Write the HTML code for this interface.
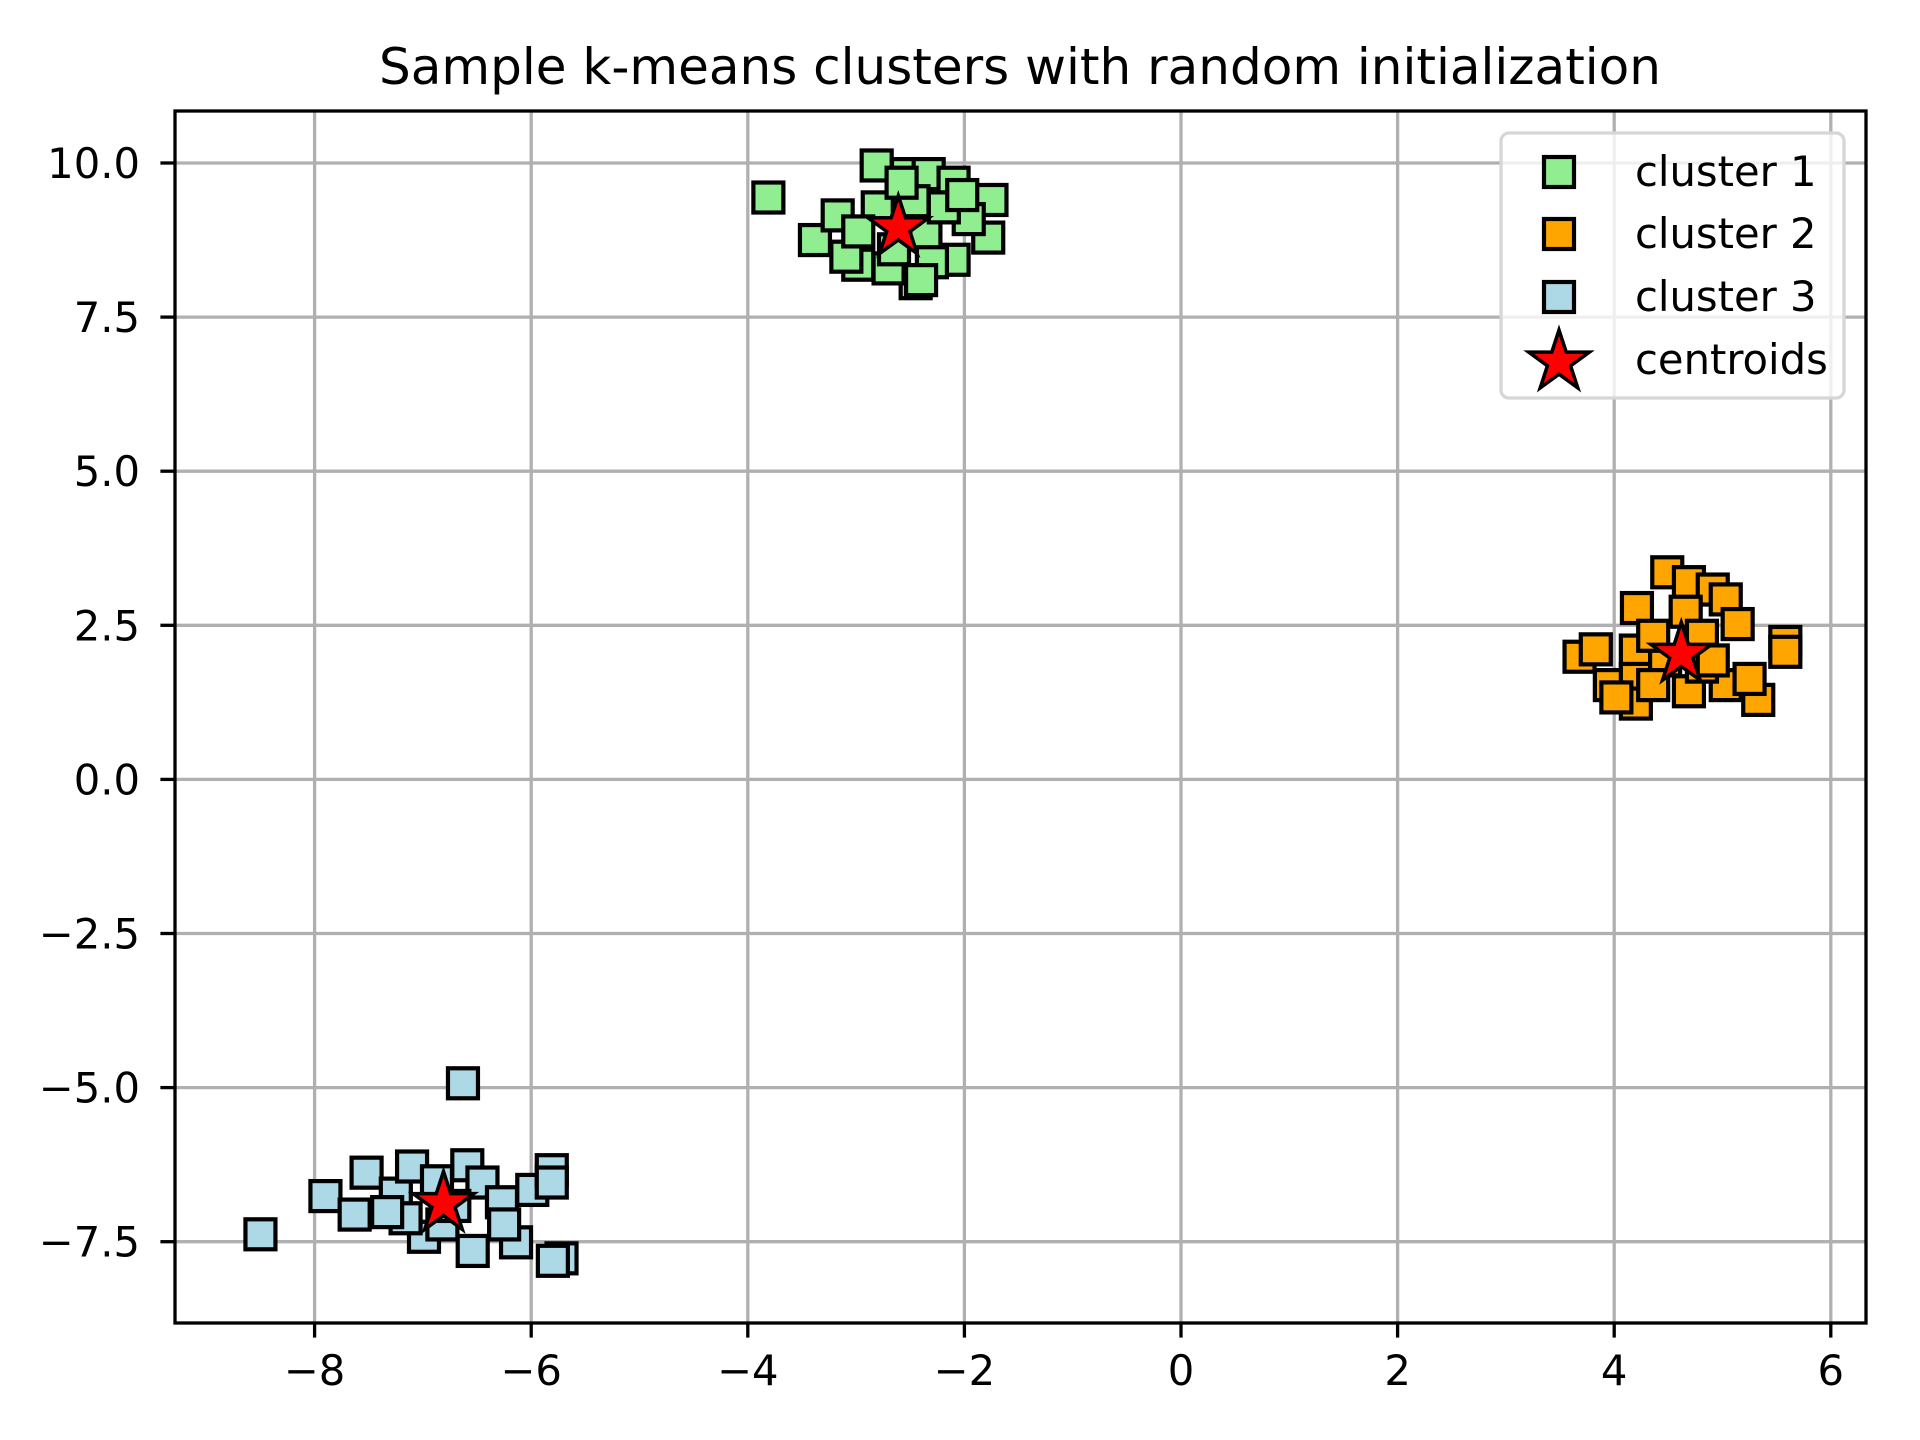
<!DOCTYPE html>
<html><head><meta charset="utf-8"><style>
html,body{margin:0;padding:0;background:#fff;}
svg{display:block;font-family:"DejaVu Sans","Liberation Sans",sans-serif;}
</style></head><body>
<svg id="chart" width="1920" height="1440" viewBox="0 0 1920 1440" xmlns="http://www.w3.org/2000/svg">
<rect width="1920" height="1440" fill="#fff"/>
<text x="1020" y="84" font-size="50" text-anchor="middle">Sample k-means clusters with random initialization</text>
<g id="grid"></g>
<g id="points"></g>
<g id="axes"></g>
<g id="legend"></g>
</svg>
<script>
const xTicks=[-8,-6,-4,-2,0,2,4,6];
const yTicks=[-7.5,-5.0,-2.5,0.0,2.5,5.0,7.5,10.0];
const c1x=[-3.81,-2.81,-2.53,-2.33,-2.10,-1.75,-1.78,-2.10,-2.45,-2.98,-3.38,-3.17,-2.80,-2.36,-2.70,-2.47,-1.96,-3.09,-2.30,-2.58,-2.19,-2.98,-2.02,-2.40,-2.65];
const c1y=[9.44,9.96,9.82,9.82,9.68,9.40,8.79,8.43,8.05,8.35,8.75,9.15,9.28,8.85,8.29,9.38,9.09,8.48,8.39,9.68,9.28,8.89,9.48,8.10,8.60];
const c2x=[4.49,4.69,4.91,5.03,4.21,4.66,5.14,4.81,5.58,5.58,3.68,3.83,4.20,3.96,4.20,4.20,4.02,5.03,5.33,4.69,4.47,4.81,5.25,4.36,4.91,4.36];
const c2y=[3.36,3.20,3.08,2.92,2.78,2.72,2.52,2.33,2.23,2.07,1.99,2.11,2.09,1.53,1.63,1.23,1.33,1.53,1.29,1.43,1.93,1.83,1.63,2.33,1.93,1.53];
const c3x=[-6.63,-8.50,-7.90,-7.63,-7.52,-7.25,-7.10,-6.59,-6.45,-6.27,-5.99,-5.81,-5.81,-5.72,-5.80,-6.14,-6.54,-6.99,-7.16,-6.82,-6.71,-7.33,-6.87,-6.25];
const c3y=[-4.93,-7.38,-6.76,-7.06,-6.38,-6.72,-6.28,-6.26,-6.54,-6.86,-6.66,-6.34,-6.54,-7.77,-7.81,-7.51,-7.65,-7.42,-7.12,-7.22,-6.92,-7.02,-6.52,-7.22];
const centX=[-2.61,4.62,-6.81];
const centY=[8.95,2.03,-6.88];

const L=175,R=1866,T=111,B=1323;
function sx(v){return 1181+v*108.3;}
function sy(v){return 779.4-v*61.64;}
const NS="http://www.w3.org/2000/svg";
function mk(tag,attrs,parent){const e=document.createElementNS(NS,tag);for(const k in attrs)e.setAttribute(k,attrs[k]);parent.appendChild(e);return e;}
const grid=document.getElementById('grid'),axes=document.getElementById('axes'),pts=document.getElementById('points'),leg=document.getElementById('legend');

xTicks.forEach(t=>{
  const x=sx(t);
  const g=mk('line',{x1:x,x2:x,y1:T,y2:B,stroke:'#b0b0b0','stroke-width':3.3},grid);
  
  
  const tk=mk('line',{x1:x,x2:x,y1:B,y2:B+14.6,stroke:'#000','stroke-width':3.3},axes);
  
  
  const tx=mk('text',{x:x,y:B+62,'font-size':41.7,'text-anchor':'middle'},axes);
  tx.textContent=(t<0?'\u2212':'')+Math.abs(t);
  
  
});
yTicks.forEach(t=>{
  const y=sy(t);
  const g=mk('line',{x1:L,x2:R,y1:y,y2:y,stroke:'#b0b0b0','stroke-width':3.3},grid);
  
  
  const tk=mk('line',{x1:L-14.6,x2:L,y1:y,y2:y,stroke:'#000','stroke-width':3.3},axes);
  
  
  const tx=mk('text',{x:L-35,y:y+15,'font-size':41.7,'text-anchor':'end'},axes);
  tx.textContent=(t<0?'\u2212':'')+Math.abs(t).toFixed(1);
  
  
});
const sp=mk('rect',{x:L,y:T,width:R-L,height:B-T,fill:'none',stroke:'#000','stroke-width':3.3},axes);



function square(cx,cy,fill,parent,s){
  return mk('rect',{x:cx-s/2,y:cy-s/2,width:s,height:s,fill:fill,stroke:'#000','stroke-width':4.2},parent);
}
function starPath(cx,cy,ro){
  const ri=ro*0.382;let d='';
  for(let i=0;i<10;i++){const r=i%2?ri:ro;const a=-Math.PI/2+i*Math.PI/5;d+=(i?'L':'M')+(cx+r*Math.cos(a)).toFixed(1)+','+(cy+r*Math.sin(a)).toFixed(1);}
  return d+'Z';
}
[[c1x,c1y,'#90ee90','cluster-1-point'],[c2x,c2y,'#ffa500','cluster-2-point'],[c3x,c3y,'#add8e6','cluster-3-point']].forEach(([xs,ys,f,n])=>{
  xs.forEach((v,i)=>{
    const r=square(sx(v),sy(ys[i]),f,pts,30);
    
    
  });
});
centX.forEach((v,i)=>{
  const p=mk('path',{d:starPath(sx(v),sy(centY[i]),32),fill:'#ff0000',stroke:'#000','stroke-width':3.5},pts);
  
  
});

const box=mk('rect',{x:1501,y:133,width:343,height:265,rx:8,fill:'#fff','fill-opacity':0.8,stroke:'#d6d6d6','stroke-width':3.3},leg);


const labels=['cluster 1','cluster 2','cluster 3','centroids'];
const fills=['#90ee90','#ffa500','#add8e6'];
const rowY=[172,234,297,360];
labels.forEach((lb,i)=>{
  let m;
  if(i<3){m=square(1559,rowY[i],fills[i],leg,30);}
  else{m=mk('path',{d:starPath(1559,rowY[i]+2,32),fill:'#ff0000',stroke:'#000','stroke-width':3.5},leg);}
  
  
  const t=mk('text',{x:1635,y:rowY[i]+14,'font-size':41.7},leg);
  t.textContent=lb;
  
  
});
</script>
</body></html>
